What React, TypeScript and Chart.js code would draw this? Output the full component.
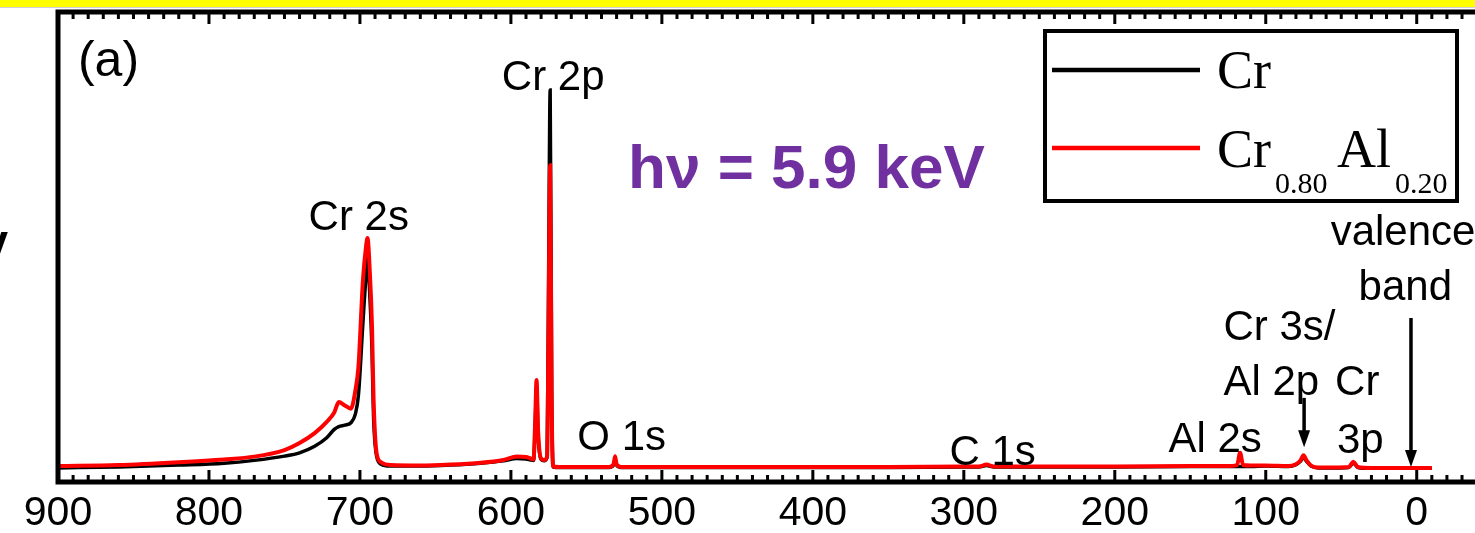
import React, { useEffect, useRef } from "react";
import { Chart, registerables } from "chart.js";

Chart.register(...registerables);

// Binding energy (eV), shared by both spectra
const ENERGY = [
  900, 860, 820, 790, 770, 750, 740, 730, 722, 717, 714, 710, 706, 703, 701, 698, 696, 695, 693.5, 692, 691, 689, 686, 680,
  660, 640, 620, 605, 596, 590, 587, 585, 584, 583, 582, 580, 578, 576, 575, 574, 573, 572, 568, 550, 535, 532, 531, 530,
  527, 500, 450, 400, 350, 300, 290, 285, 280, 250, 200, 150, 125, 119, 117, 115, 110, 100, 85, 80, 77, 75, 73, 70, 65, 55,
  45, 42, 39, 30, 15, 5, 0, -10,
];

// Intensity (arb. units) – Cr
const CR = [
  3.0, 3.2, 3.6, 4.0, 4.6, 5.5, 6.2, 7.6, 9.4, 11.2, 11.8, 12.1, 12.6, 14.5, 18.5, 34, 44, 47.7, 40, 28, 14, 5.6, 3.8, 3.4,
  3.4, 3.6, 4.0, 4.5, 5.0, 4.9, 4.7, 4.6, 11, 20.5, 10, 4.8, 4.5, 5.3, 45, 83.4, 20, 3.2, 3.1, 3.1, 3.1, 3.6, 4.8, 3.6,
  3.1, 3.1, 3.1, 3.1, 3.1, 3.2, 3.2, 3.5, 3.2, 3.2, 3.2, 3.3, 3.3, 3.3, 3.3, 3.3, 3.3, 3.4, 3.3, 3.7, 4.4, 5.2, 4.4, 3.4, 3.0, 3.0,
  3.1, 4.0, 3.1, 2.9, 2.9, 2.9, 2.9, 2.9,
];

// Intensity (arb. units) – Cr0.80Al0.20
const CRAL = [
  3.4, 3.6, 4.2, 4.8, 5.4, 6.8, 8.3, 10.4, 12.8, 14.8, 17.0, 16.3, 15.6, 19.5, 24.5, 43.0, 50.0, 51.9, 45, 33, 18, 6.2, 4.2, 3.6,
  3.5, 3.7, 4.1, 4.7, 5.4, 5.3, 5.0, 4.8, 12, 21.7, 11, 5.0, 4.7, 5.5, 36, 67.4, 17, 3.3, 3.2, 3.2, 3.2, 3.8, 5.5, 3.8,
  3.2, 3.2, 3.2, 3.2, 3.2, 3.3, 3.3, 3.7, 3.3, 3.3, 3.3, 3.4, 3.4, 3.6, 6.2, 3.6, 3.5, 3.5, 3.4, 3.8, 4.6, 5.7, 4.6, 3.5, 3.1, 3.1,
  3.2, 4.3, 3.2, 3.0, 3.0, 3.0, 3.0, 3.0,
];

const TICK_LABELS = [0, 100, 200, 300, 400, 500, 600, 700, 800, 900];
const X_MIN = -38.6;
const X_MAX = 900;

// Peak labels: [text, energy, intensity]
const LABELS: [string, number, number][] = [
  ["Cr 2p", 606, 83.4],
  ["Cr 2s", 734, 53.6],
  ["O 1s", 556, 6.8],
  ["C 1s", 309.5, 3.6],
  ["Al 2s", 164.5, 6.4],
  ["Cr 3s/", 128, 30.2],
  ["Al 2p", 128, 18.5],
  ["Cr", 54.1, 18.5],
  ["3p", 52.8, 6.2],
  ["valence", 57, 50.4],
  ["band", 38.5, 38.7],
];

// Arrows: [energy, fromIntensity, toIntensity]
const ARROWS: [number, number, number][] = [
  [74.6, 17.9, 7.4],
  [3.8, 34.9, 3.2],
];

const SANS = "'Liberation Sans', Arial, sans-serif";
const SERIF = "'Liberation Serif', 'Times New Roman', serif";

const decor = {
  id: "decor",
  beforeDraw(chart: any) {
    const ctx = chart.ctx;
    ctx.save();
    ctx.fillStyle = "#ffffff";
    ctx.fillRect(0, 0, chart.width, chart.height);
    ctx.fillStyle = "#ffff00";
    ctx.fillRect(0, 0, chart.width, 7);
    ctx.fillStyle = "#d0d0d0";
    ctx.fillRect(0, 7, chart.width, 1);
    ctx.restore();
  },
  afterDraw(chart: any) {
    const ctx = chart.ctx;
    const xs = chart.scales.x;
    const ys = chart.scales.y;
    const a = chart.chartArea;
    ctx.save();

    // frame
    ctx.strokeStyle = "#000";
    ctx.lineWidth = 5;
    ctx.lineCap = "butt";
    ctx.beginPath();
    ctx.moveTo(chart.width + 5, a.top);
    ctx.lineTo(a.left, a.top);
    ctx.lineTo(a.left, a.bottom);
    ctx.lineTo(chart.width + 5, a.bottom);
    ctx.stroke();

    // ticks (inward), major every 100, minor every 10
    ctx.lineWidth = 3;
    for (let v = -30; v <= 900; v += 10) {
      const px = xs.getPixelForValue(v);
      const major = v % 100 === 0;
      const len = major ? 12 : 7;
      ctx.beginPath();
      ctx.moveTo(px, a.bottom);
      ctx.lineTo(px, a.bottom - len);
      ctx.moveTo(px, a.top);
      ctx.lineTo(px, a.top + len);
      ctx.stroke();
    }

    // panel label
    ctx.fillStyle = "#000";
    ctx.textBaseline = "alphabetic";
    ctx.textAlign = "left";
    ctx.font = `50px ${SANS}`;
    ctx.fillText("(a)", xs.getPixelForValue(886.8), ys.getPixelForValue(86.4));

    // peak labels
    ctx.font = `42px ${SANS}`;
    for (const [t, x, y] of LABELS) {
      ctx.fillText(t, xs.getPixelForValue(x), ys.getPixelForValue(y));
    }

    // photon energy
    ctx.fillStyle = "#7030a0";
    ctx.font = `bold 62px ${SANS}`;
    ctx.fillText("h\u03bd = 5.9 keV", xs.getPixelForValue(522.4), ys.getPixelForValue(62.6));

    // arrows
    ctx.fillStyle = "#000";
    ctx.strokeStyle = "#000";
    ctx.lineWidth = 3.5;
    for (const [x, y0, y1] of ARROWS) {
      const px = xs.getPixelForValue(x);
      const p0 = ys.getPixelForValue(y0);
      const p1 = ys.getPixelForValue(y1);
      ctx.beginPath();
      ctx.moveTo(px, p0);
      ctx.lineTo(px, p1 - 12);
      ctx.stroke();
      ctx.beginPath();
      ctx.moveTo(px - 6, p1 - 17);
      ctx.lineTo(px + 6, p1 - 17);
      ctx.lineTo(px, p1);
      ctx.closePath();
      ctx.fill();
    }

    // legend
    ctx.lineWidth = 4;
    ctx.strokeStyle = "#000";
    ctx.strokeRect(1045, 31, 412, 170);
    ctx.lineWidth = 4.5;
    ctx.beginPath();
    ctx.moveTo(1052, 70);
    ctx.lineTo(1200, 70);
    ctx.stroke();
    ctx.strokeStyle = "#ff0000";
    ctx.beginPath();
    ctx.moveTo(1052, 148);
    ctx.lineTo(1200, 148);
    ctx.stroke();
    ctx.fillStyle = "#000";
    ctx.font = `54px ${SERIF}`;
    ctx.fillText("Cr", 1217, 88);
    ctx.fillText("Cr", 1217, 167);
    ctx.fillText("Al", 1337, 167);
    ctx.font = `30px ${SERIF}`;
    ctx.fillText("0.80", 1275, 193);
    ctx.fillText("0.20", 1395, 193);

    // clipped glyph at the left edge
    ctx.font = `bold 44px ${SANS}`;
    ctx.textAlign = "right";
    ctx.fillText("V", 8, 263);

    ctx.restore();
  },
};

export default function App() {
  const ref = useRef<HTMLCanvasElement | null>(null);
  useEffect(() => {
    document.body.style.margin = "0";
    document.body.style.overflow = "hidden";
    const canvas = ref.current;
    if (!canvas) return;
    const chart = new Chart(canvas, {
      type: "line",
      data: {
        datasets: [
          {
            label: "Cr0.80Al0.20",
            data: ENERGY.map((x, i) => ({ x, y: CRAL[i] })),
            borderColor: "#ff0000",
            borderWidth: 4,
            pointRadius: 0,
            cubicInterpolationMode: "monotone",
            order: 0,
          },
          {
            label: "Cr",
            data: ENERGY.map((x, i) => ({ x, y: CR[i] })),
            borderColor: "#000000",
            borderWidth: 3.5,
            pointRadius: 0,
            cubicInterpolationMode: "monotone",
            order: 1,
          },
        ],
      },
      options: {
        animation: false,
        responsive: false,
        devicePixelRatio: 1,
        layout: { padding: { left: 58, top: 12, right: 0, bottom: 0 } },
        plugins: { legend: { display: false }, tooltip: { enabled: false } },
        scales: {
          x: {
            type: "linear",
            reverse: true,
            min: X_MIN,
            max: X_MAX,
            grid: { display: false, drawTicks: false },
            border: { display: false },
            ticks: {
              font: { family: SANS, size: 41 },
              color: "#000",
              padding: 7,
              maxRotation: 0,
              autoSkip: false,
            },
            afterBuildTicks: (s: any) => {
              s.ticks = TICK_LABELS.map((v) => ({ value: v }));
            },
            afterFit: (s: any) => {
              s.height = 51;
            },
          },
          y: { display: false, min: 0, max: 100 },
        },
      },
      plugins: [decor],
    } as any);
    return () => chart.destroy();
  }, []);
  return (
    <div style={{ width: 1475, height: 533, overflow: "hidden" }}>
      <canvas ref={ref} width={1475} height={533} style={{ display: "block" }} />
    </div>
  );
}
